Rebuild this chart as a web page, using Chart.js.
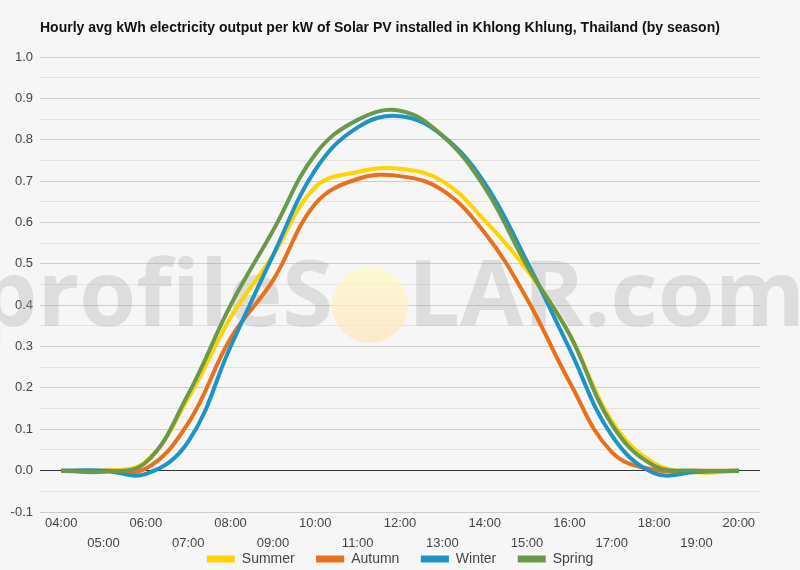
<!DOCTYPE html>
<html>
<head>
<meta charset="utf-8">
<script src="https://cdn.jsdelivr.net/npm/chart.js@4.4.1/dist/chart.umd.min.js"></script>
<style>
  html, body { margin: 0; padding: 0; background: #f6f6f6; }
  #wrap { position: relative; width: 800px; height: 570px; }
</style>
</head>
<body>
<div id="wrap"><canvas id="solarChart" width="800" height="570"></canvas></div>
<script>
// ===== Data
const hours = ['04:00', '05:00', '06:00', '07:00', '08:00', '09:00', '10:00', '11:00', '12:00',
               '13:00', '14:00', '15:00', '16:00', '17:00', '18:00', '19:00', '20:00'];
const summer = [0, 0, 0.022, 0.175, 0.37, 0.52, 0.685, 0.722, 0.73, 0.70, 0.605, 0.485, 0.33, 0.12, 0.018, -0.004, 0];
const autumn = [0, 0, 0.005, 0.115, 0.32, 0.46, 0.645, 0.705, 0.712, 0.678, 0.575, 0.415, 0.215, 0.045, 0.002, 0, 0];
const winter = [0, 0, -0.008, 0.07, 0.30, 0.52, 0.727, 0.83, 0.857, 0.81, 0.695, 0.505, 0.295, 0.085, -0.006, -0.003, 0];
const spring = [0, -0.003, 0.02, 0.185, 0.40, 0.58, 0.765, 0.848, 0.87, 0.81, 0.685, 0.495, 0.33, 0.112, 0.012, 0, 0];

const chartTitle = 'Hourly avg kWh electricity output per kW of Solar PV installed in Khlong Khlung, Thailand (by season)';

// ===== Plugins
const bgPlugin = {
  id: 'bg',
  beforeDraw(chart) {
    const ctx = chart.ctx;
    ctx.save();
    ctx.fillStyle = '#f6f6f6';
    ctx.fillRect(0, 0, chart.width, chart.height);
    ctx.restore();
  }
};

// watermark "profileSOLAR.com" behind the lines
const watermarkPlugin = {
  id: 'watermark',
  beforeDatasetsDraw(chart) {
    const ctx = chart.ctx;
    ctx.save();
    ctx.font = 'bold 92px "Open Sans", Arial, sans-serif';
    ctx.fillStyle = 'rgba(170,170,170,0.33)';
    ctx.textBaseline = 'alphabetic';
    ctx.textAlign = 'right';
    ctx.fillText('profileS', 333, 326);
    ctx.textAlign = 'left';
    ctx.fillText('LAR.com', 408, 326);
    const g = ctx.createLinearGradient(0, 268, 0, 343);
    g.addColorStop(0, 'rgba(255,250,200,0.75)');
    g.addColorStop(1, 'rgba(255,228,190,0.75)');
    ctx.fillStyle = g;
    ctx.beginPath();
    ctx.arc(370, 305, 38, 0, Math.PI * 2);
    ctx.fill();
    ctx.restore();
  }
};

const titlePlugin = {
  id: 'topTitle',
  afterDraw(chart) {
    const ctx = chart.ctx;
    ctx.save();
    ctx.font = 'bold 14px "Liberation Sans", Arial, sans-serif';
    ctx.fillStyle = '#111';
    ctx.textBaseline = 'middle';
    ctx.fillText(chartTitle, 40, 28);
    ctx.restore();
  }
};

// ===== Chart
function series(label, data, color, order) {
  return {
    label, data, order,
    yAxisID: 'y',
    borderColor: color,
    backgroundColor: color,
    borderWidth: 4,
    pointRadius: 0,
    tension: 0.4,
    fill: false
  };
}

// trailing spaces give the wide gap between legend items (except the last one)
function legendLabels(chart) {
  const items = Chart.defaults.plugins.legend.labels.generateLabels(chart);
  items.sort((a, b) => a.datasetIndex - b.datasetIndex);
  items.forEach((it, i) => {
    it.lineWidth = 0;
    if (i < items.length - 1) it.text = it.text + '     ';
  });
  return items;
}

const ctx = document.getElementById('solarChart').getContext('2d');
new Chart(ctx, {
  type: 'line',
  data: {
    labels: hours,
    datasets: [
      series('Summer', summer, '#ffd500', 3),
      series('Autumn', autumn, '#e8711f', 2),
      series('Winter', winter, '#1e93c6', 1),
      series('Spring', spring, '#6b994b', 0)
    ]
  },
  options: {
    responsive: false,
    animation: false,
    layout: { padding: { top: 57, right: 0, left: 0, bottom: -6 } },
    plugins: {
      title: { display: false },
      tooltip: { enabled: false },
      legend: {
        position: 'bottom',
        labels: {
          generateLabels: legendLabels,
          boxWidth: 28,
          boxHeight: 7,
          padding: 2,
          color: '#444',
          font: { size: 14, family: '"Liberation Sans", Arial, sans-serif' }
        }
      }
    },
    scales: {
      x: {
        offset: true,
        grid: { display: false },
        border: { display: false },
        afterFit: s => { s.height = 38; },
        ticks: {
          autoSkip: false,
          maxRotation: 0,
          padding: -7,
          color: '#444',
          font: { size: 13, lineHeight: '20px', family: '"Liberation Sans", Arial, sans-serif' },
          callback: (v, i) => (i % 2 === 0 ? hours[i] : ['', hours[i]])
        }
      },
      y: {
        min: -0.1,
        max: 1.0,
        afterFit: s => { s.width = 40; },
        border: { display: false },
        grid: {
          drawTicks: false,
          lineWidth: 1,
          color: c => {
            const k = Math.round(c.tick.value * 20);
            if (k === 0) return '#333';
            return k % 2 === 0 ? '#cdcdcd' : '#e3e3e3';
          }
        },
        ticks: {
          stepSize: 0.05,
          padding: 7,
          color: '#444',
          font: { size: 13, family: '"Liberation Sans", Arial, sans-serif' },
          callback: v => {
            const k = Math.round(v * 20);
            return k % 2 === 0 ? (k / 20).toFixed(1) : '';
          }
        }
      },
      // empty right margin so the legend stays centred on the full width
      yRight: {
        position: 'right',
        min: -0.1,
        max: 1.0,
        grid: { display: false, drawOnChartArea: false },
        border: { display: false },
        ticks: { display: false },
        afterFit: s => { s.width = 40; }
      }
    }
  },
  plugins: [bgPlugin, watermarkPlugin, titlePlugin]
});
</script>
</body>
</html>
